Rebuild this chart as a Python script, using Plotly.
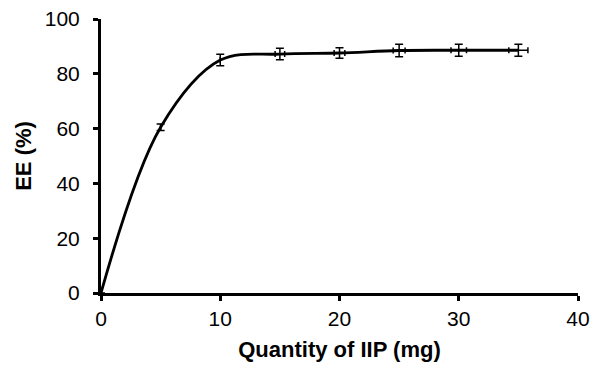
import plotly.graph_objects as go

quantity = [0, 5, 10, 15, 20, 25, 30, 35]
ee = [0, 60.5, 85.0, 87.2, 87.6, 88.5, 88.6, 88.6]
ee_err = [0, 1.2, 2.1, 2.1, 1.9, 2.3, 2.2, 2.2]
qty_err = [0, 0, 0, 0.4, 0.45, 0.5, 0.65, 0.8]
x_ticks = [0, 10, 20, 30, 40]
y_ticks = [0, 20, 40, 60, 80, 100]

fig = go.Figure()
fig.add_trace(go.Scatter(
    x=quantity, y=ee, mode="lines",
    line=dict(color="black", width=2.8, shape="spline", smoothing=1.0),
    error_y=dict(type="data", array=ee_err, visible=True, color="black", thickness=1.5, width=4),
    error_x=dict(type="data", array=qty_err, visible=True, color="black", thickness=1.5, width=3),
    showlegend=False, cliponaxis=False,
))

font = "Liberation Sans, Arial, sans-serif"
fig.update_layout(
    width=595, height=374,
    margin=dict(l=101, r=17, t=19, b=81),
    paper_bgcolor="white", plot_bgcolor="white",
    font=dict(family=font, size=21, color="black"),
    xaxis=dict(
        range=[0, 40], tickvals=x_ticks, showgrid=False, zeroline=False,
        showline=True, linecolor="black", linewidth=3, automargin=False,
        ticks="outside", ticklen=5, tickwidth=3, tickcolor="black",
        title=dict(text="<b>Quantity of IIP (mg)</b>", font=dict(size=22), standoff=13),
    ),
    yaxis=dict(
        range=[0, 100], tickvals=y_ticks, showgrid=False, zeroline=False,
        showline=True, linecolor="black", linewidth=3, automargin=False,
        ticks="outside", ticklen=5, tickwidth=3, tickcolor="black",
        ticklabelstandoff=9,
        title=dict(text="<b>EE (%)</b>", font=dict(size=22), standoff=8),
    ),
)

fig.write_html("out.html")
